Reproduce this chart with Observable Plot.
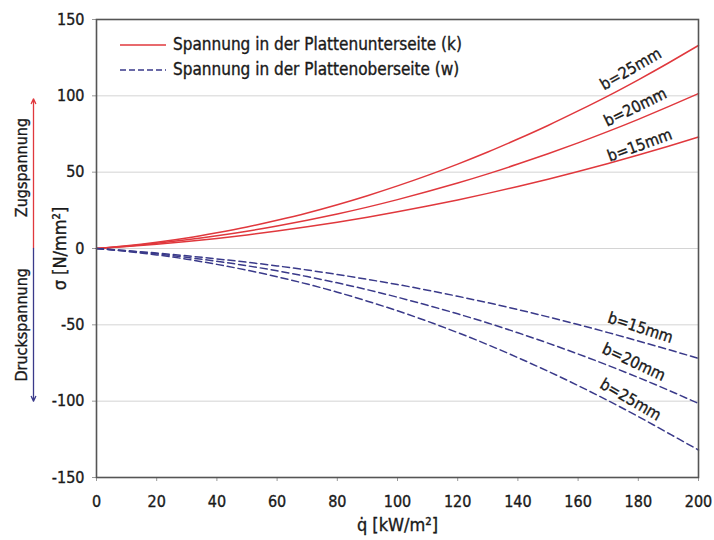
<!DOCTYPE html>
<html>
<head>
<meta charset="utf-8">
<script src="https://cdn.jsdelivr.net/npm/d3@7"></script>
<script src="https://cdn.jsdelivr.net/npm/@observablehq/plot@0.6"></script>
<style>
  html, body { margin: 0; padding: 0; background: #fff; }
  #wrap { position: relative; width: 714px; height: 540px; font-family: "DejaVu Sans Condensed", "DejaVu Sans", sans-serif; }
  #legend { position: absolute; left: 120px; top: 32px; font-size: 17px; color: #1a1a1a; line-height: 25px; -webkit-text-stroke: 0.35px #1a1a1a; }
  #legend .row { display: flex; align-items: center; }
  #legend svg { margin-right: 7px; }
  #chart svg text { stroke: #1a1a1a; stroke-width: 0.35px; }
</style>
</head>
<body>
<div id="wrap">
  <div id="chart"></div>
  <div id="legend"></div>
</div>
<script>
// heat flux q̇ [kW/m²]
const q = [0,10,20,30,40,50,60,70,80,90,100,110,120,130,140,150,160,170,180,190,200];

// stress on the plate underside (k), N/mm²
const k15 = [0,1.3,2.8,4.6,6.6,8.9,11.4,14.2,17.2,20.5,24.0,27.8,31.8,36.1,40.6,45.4,50.4,55.7,61.2,67.0,73.0];
const k20 = [0,1.5,3.4,5.7,8.3,11.3,14.7,18.5,22.6,27.1,32.0,37.3,42.9,48.9,55.3,62.1,69.2,76.7,84.6,92.9,101.5];
const k25 = [0,1.8,4.1,6.9,10.3,14.1,18.5,23.3,28.7,34.6,41.0,47.9,55.3,63.2,71.7,80.6,90.1,100.0,110.5,121.5,133.0];

// stress on the plate upper side (w), N/mm²
const w15 = [0,-1.4,-3.0,-4.8,-6.8,-9.0,-11.4,-14.1,-17.0,-20.2,-23.6,-27.3,-31.3,-35.5,-40.0,-44.8,-49.8,-55.1,-60.6,-66.2,-72.0];
const w20 = [0,-1.6,-3.5,-5.8,-8.4,-11.3,-14.6,-18.4,-22.5,-27.0,-31.9,-37.2,-42.8,-48.8,-55.2,-62.0,-69.1,-76.6,-84.5,-92.8,-101.5];
const w25 = [0,-1.9,-4.2,-7.0,-10.4,-14.2,-18.5,-23.3,-28.6,-34.5,-40.8,-47.7,-55.1,-63.0,-71.5,-80.4,-89.8,-99.7,-110.1,-121.0,-132.0];

const xTicks = [0,20,40,60,80,100,120,140,160,180,200];
const yTicks = [-150,-100,-50,0,50,100,150];
const gridValues = [-100,-50,0,50,100];

const legendLabels = ["Spannung in der Plattenunterseite (k)", "Spannung in der Plattenoberseite (w)"];
const curveLabels = ["b=15mm", "b=20mm", "b=25mm"];
const sideLabels = ["Zugspannung", "Druckspannung"];

const RED = "#e0383d";
const BLUE = "#3a3a8a";

const toRows = (arr, name) => arr.map((v, i) => ({q: q[i], s: v, series: name}));
const kRows = [...toRows(k15, "k15"), ...toRows(k20, "k20"), ...toRows(k25, "k25")];
const wRows = [...toRows(w15, "w15"), ...toRows(w20, "w20"), ...toRows(w25, "w25")];

// label anchors (annotation placement)
const labelRows = [
  {q: 180.5, s: 67.5, t: curveLabels[0], r: -20},
  {q: 179.0, s: 92.5, t: curveLabels[1], r: -26},
  {q: 177.5, s: 117.5, t: curveLabels[2], r: -30},
  {q: 180.7, s: -52, t: curveLabels[0], r: 18},
  {q: 178.5, s: -74.5, t: curveLabels[1], r: 25},
  {q: 177.4, s: -99, t: curveLabels[2], r: 30}
];

const arrows = [
  {to: 98, c: RED},
  {to: -100, c: BLUE}
];
const sideRows = [
  {s: 53, t: sideLabels[0]},
  {s: -50, t: sideLabels[1]}
];

const hyphen = d => String(d);

const chart = Plot.plot({
  width: 714,
  height: 540,
  marginTop: 19,
  marginBottom: 63,
  marginLeft: 96,
  marginRight: 16,
  style: {fontFamily: "'DejaVu Sans Condensed', 'DejaVu Sans', sans-serif", fontSize: "16px", color: "#1a1a1a", background: "#fff"},
  x: {domain: [0, 200]},
  y: {domain: [-150, 150]},
  marks: [
    Plot.gridY(gridValues, {stroke: "#d4d4d4", strokeOpacity: 1, strokeWidth: 1}),
    Plot.axisX({ticks: xTicks, tickFormat: hyphen, tickSize: 4, tickPadding: 14, fontSize: 16, label: "q\u0307 [kW/m²]", labelAnchor: "center", labelOffset: 53, labelArrow: "none", stroke: "#999"}),
    Plot.axisY({ticks: yTicks, tickFormat: hyphen, tickSize: 4, tickPadding: 8, fontSize: 16, label: "σ [N/mm²]", labelAnchor: "center", labelOffset: 43, labelArrow: "none", stroke: "#999"}),
    Plot.line(kRows, {x: "q", y: "s", z: "series", stroke: RED, strokeWidth: 1.5, curve: "natural"}),
    Plot.line(wRows, {x: "q", y: "s", z: "series", stroke: BLUE, strokeWidth: 1.5, strokeDasharray: "7,4", curve: "natural"}),
    Plot.text(labelRows, {x: "q", y: "s", text: "t", rotate: "r", fontSize: 16, fill: "#1a1a1a"}),
    Plot.arrow(arrows, {x1: 0, x2: 0, y1: 0, y2: "to", stroke: "c", dx: -63, headLength: 6, strokeWidth: 1.3, headAngle: 50}),
    Plot.text(sideRows, {x: 0, y: "s", text: "t", rotate: -90, dx: -75, fontSize: 16, fill: "#1a1a1a"}),
    Plot.frame({stroke: "#555", strokeWidth: 1.6})
  ]
});
document.getElementById("chart").appendChild(chart);
// axis label sizes
chart.querySelectorAll("g[aria-label='x-axis label'] text, g[aria-label='y-axis label'] text").forEach(t => t.setAttribute("font-size", "18"));

// legend
const legend = document.getElementById("legend");
legendLabels.forEach((lab, i) => {
  const row = document.createElement("div");
  row.className = "row";
  const dash = i === 1 ? 'stroke-dasharray="6,3"' : "";
  const col = i === 0 ? RED : BLUE;
  row.innerHTML = `<svg width="46" height="10"><line x1="0" x2="46" y1="5" y2="5" stroke="${col}" stroke-width="1.5" ${dash}/></svg><span>${lab}</span>`;
  legend.appendChild(row);
});
</script>
</body>
</html>
